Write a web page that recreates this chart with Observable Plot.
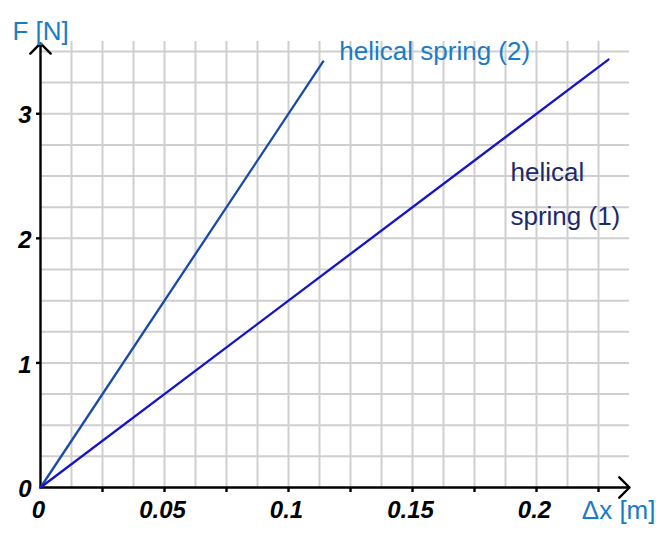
<!DOCTYPE html>
<html><head><meta charset="utf-8">
<script src="https://cdn.jsdelivr.net/npm/d3@7"></script>
<script src="https://cdn.jsdelivr.net/npm/@observablehq/plot@0.6"></script>
<style>body{margin:0;background:#fff}</style>
</head><body><div id="chart"></div>
<script>
// Data
const spring1 = [{dx: 0, F: 0}, {dx: 0.229, F: 3.435}];
const spring2 = [{dx: 0, F: 0}, {dx: 0.114, F: 3.42}];
const xDomain = [0, 0.2375];
const yDomain = [0, 3.58];
const xGridTicks = [0.0125, 0.025, 0.0375, 0.05, 0.0625, 0.075, 0.0875, 0.1, 0.1125, 0.125, 0.1375, 0.15, 0.1625, 0.175, 0.1875, 0.2, 0.2125, 0.225];
const yGridTicks = [0.25, 0.5, 0.75, 1, 1.25, 1.5, 1.75, 2, 2.25, 2.5, 2.75, 3, 3.25, 3.5];
const xTickMarks = [0.025, 0.05, 0.075, 0.1, 0.125, 0.15, 0.175, 0.2, 0.225];
const xTickLabels = [0, 0.05, 0.1, 0.15, 0.2];
const yTickMarks = [1, 2, 3];
const yTickLabels = [0, 1, 2, 3];
const labels1 = [{dx: 0.1895, F: 2.53, text: "helical"}, {dx: 0.1895, F: 2.17, text: "spring (1)"}];
const labels2 = [{dx: 0.1205, F: 3.5, text: "helical spring (2)"}];
const axesArrows = [
  {x1: 0, y1: 0, x2: 0.2375, y2: 0},
  {x1: 0, y1: 0, x2: 0, y2: 3.565}
];

const font = "'Liberation Sans', Arial, sans-serif";
const chart = Plot.plot({
  width: 656,
  height: 533,
  marginLeft: 40,
  marginRight: 27,
  marginTop: 41,
  marginBottom: 46,
  style: {fontFamily: font, background: "#fff", overflow: "visible"},
  x: {domain: xDomain},
  y: {domain: yDomain},
  marks: [
    Plot.gridX(xGridTicks, {stroke: "#cfcfcf", strokeOpacity: 1, strokeWidth: 2}),
    Plot.gridY(yGridTicks, {stroke: "#cfcfcf", strokeOpacity: 1, strokeWidth: 2}),
    Plot.axisX(xTickMarks, {tickSize: 5, text: null, stroke: "#000", strokeWidth: 2.4}),
    Plot.axisX(xTickLabels, {tickSize: 0, tickPadding: 13, dx: -2, fontSize: 24, fontWeight: "bold", fontStyle: "italic", fill: "#000",
      tickFormat: d => String(d)}),
    Plot.axisY(yTickMarks, {tickSize: 4, text: null, stroke: "#000", strokeWidth: 2.4}),
    Plot.axisY(yTickLabels, {tickSize: 0, tickPadding: 9, dy: 2, fontSize: 24, fontWeight: "bold", fontStyle: "italic", fill: "#000",
      tickFormat: d => String(d)}),
    Plot.arrow(axesArrows, {x1: "x1", y1: "y1", x2: "x2", y2: "y2", stroke: "#000", strokeWidth: 2.4, headAngle: 90, headLength: 9}),
    Plot.line(spring2, {x: "dx", y: "F", stroke: "#1a4aa8", strokeWidth: 2.3}),
    Plot.line(spring1, {x: "dx", y: "F", stroke: "#1414cc", strokeWidth: 2.3}),
    Plot.text(labels2, {x: "dx", y: "F", text: "text", textAnchor: "start", fontSize: 26, fill: "#1a7cc6"}),
    Plot.text(labels1, {x: "dx", y: "F", text: "text", textAnchor: "start", fontSize: 26, fill: "#1c2a6c"}),
    Plot.text(["F [N]"], {frameAnchor: "top-left", textAnchor: "start", dx: -28, dy: -20, fontSize: 26, fill: "#1a7cc6"}),
    Plot.text(["Δx [m]"], {frameAnchor: "bottom-right", textAnchor: "end", dx: 26, dy: 31, fontSize: 26, fill: "#1a7cc6"})
  ]
});
document.getElementById("chart").appendChild(chart);
</script>
</body></html>
